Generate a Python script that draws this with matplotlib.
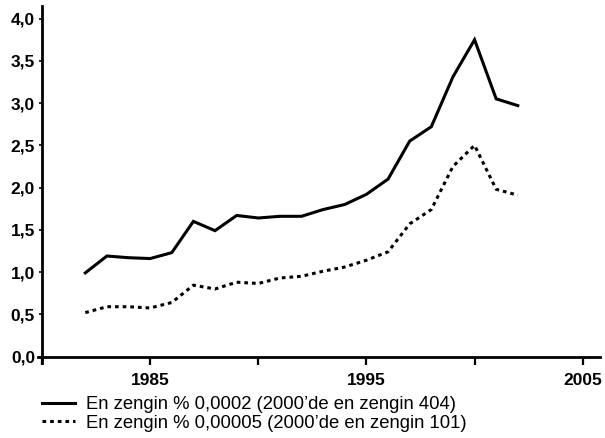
import matplotlib.pyplot as plt
import numpy as np

plt.rcParams['font.family'] = ['Liberation Sans', 'DejaVu Sans']

years = np.arange(1982, 2003)
top_0002 = [0.99, 1.19, 1.17, 1.16, 1.23, 1.60, 1.49, 1.67, 1.64, 1.66, 1.66,
            1.74, 1.80, 1.92, 2.10, 2.55, 2.72, 3.31, 3.75, 3.05, 2.97]
top_00005 = [0.52, 0.59, 0.59, 0.575, 0.64, 0.845, 0.80, 0.88, 0.865, 0.93, 0.95,
             1.01, 1.06, 1.14, 1.24, 1.57, 1.74, 2.25, 2.50, 1.98, 1.91]
labels = ["En zengin % 0,0002 (2000\u2019de en zengin 404)",
          "En zengin % 0,00005 (2000\u2019de en zengin 101)"]
yticks = [0.0, 0.5, 1.0, 1.5, 2.0, 2.5, 3.0, 3.5, 4.0]
xticks = [1980, 1985, 1990, 1995, 2000, 2005]
xticklabels = ["", "1985", "", "1995", "", "2005"]

fig = plt.figure(figsize=(6.05, 4.38), dpi=100)
ax = fig.add_axes([0.0623, 0.1705, 0.9294, 0.816])

ax.plot(years, top_0002, color='black', lw=2.2, solid_joinstyle='miter', label=labels[0])
ax.plot(years, top_00005, color='black', lw=2.2, linestyle=(0, (1.2, 1.3)), label=labels[1])

ax.set_xlim(1979.8, 2005.8)
ax.set_ylim(-0.08, 4.15)
ax.spines['top'].set_visible(False)
ax.spines['right'].set_visible(False)
ax.spines['left'].set_position(('data', 1980))
ax.spines['bottom'].set_position(('data', 0))
ax.spines['left'].set_linewidth(2.0)
ax.spines['bottom'].set_linewidth(2.0)

ax.set_yticks(yticks)
ax.set_yticklabels([f"{v:.1f}".replace('.', ',') for v in yticks],
                   fontsize=12.5, fontweight='bold')
ax.set_xticks(xticks)
ax.set_xticklabels(xticklabels, fontsize=12.5, fontweight='bold')
ax.tick_params(axis='y', direction='out', length=2, width=1.2, pad=3)
ax.tick_params(axis='x', direction='out', length=6, width=1.6, pad=6)

# legend sits under the plot, aligned with the y axis
leg = ax.legend(loc='upper left', bbox_to_anchor=(0.008, -0.092), frameon=False,
                fontsize=13.3, handlelength=1.75, handletextpad=0.6,
                labelspacing=0.08, borderaxespad=0, borderpad=0)

fig.savefig('out.png', dpi=100)
